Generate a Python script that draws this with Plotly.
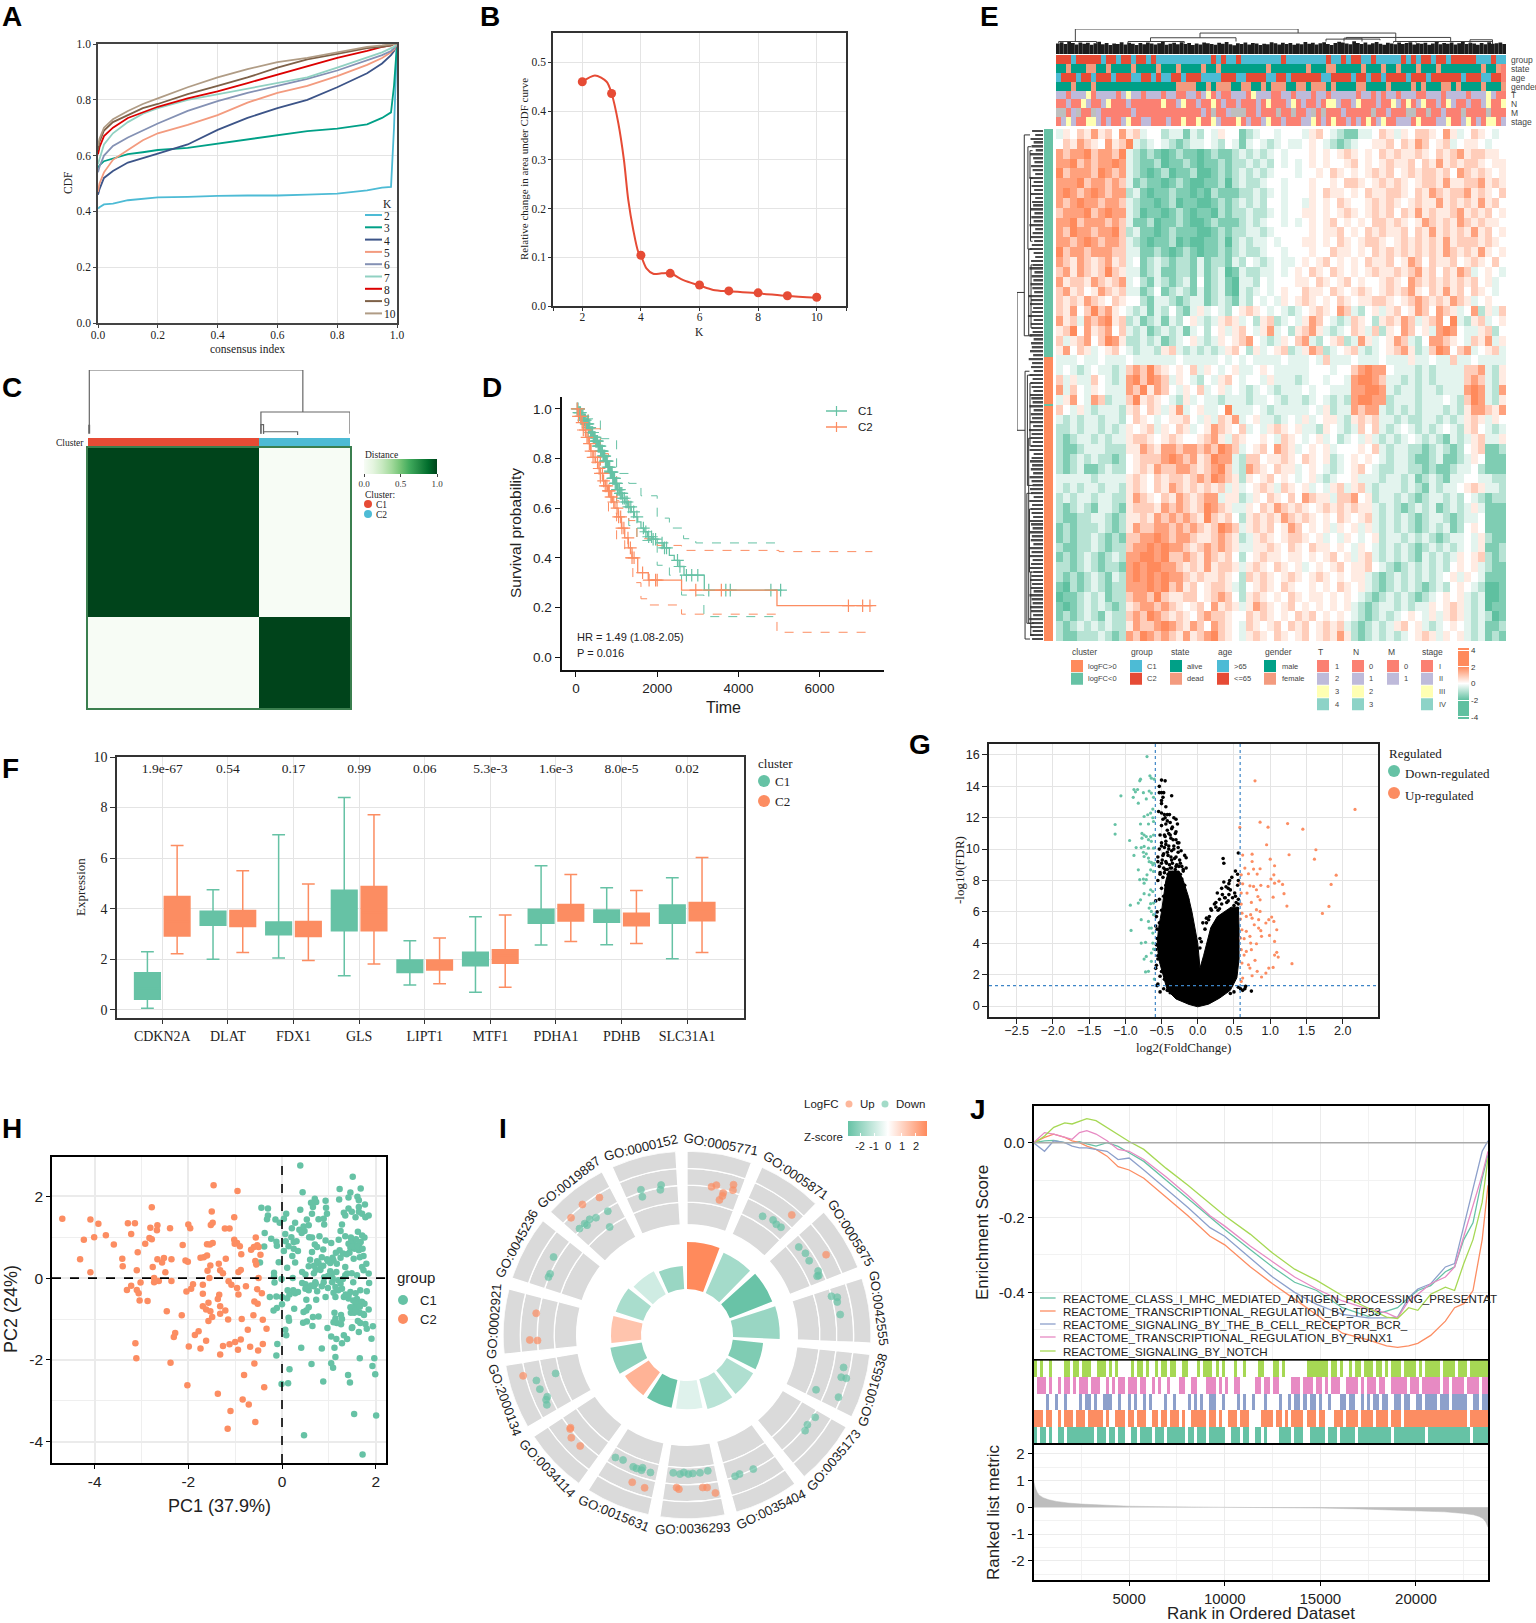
import numpy as np
import plotly.graph_objects as go

W, H = 1536, 1623
SERIF = "Liberation Serif"
SANS = "Liberation Sans"
GREEN = "#66C2A5"
ORANGE = "#FC8D62"

# ---- A: consensus CDF
cdf_index = [0, .005, .02, .05, .1, .15, .2, .3, .4, .5, .6, .7, .8, .9, .95, .98, .99, 1.0]
cdf_k2 = [.41, .415, .425, .428, .44, .445, .45, .452, .456, .457, .457, .46, .464, .475, .485, .488, .7, 1]
cdf_k3 = [.555, .565, .58, .59, .605, .612, .62, .628, .643, .656, .672, .688, .697, .712, .735, .755, .85, 1]
cdf_k4 = [.46, .48, .52, .545, .575, .592, .607, .64, .692, .735, .77, .8, .845, .895, .93, .96, .975, 1]
cdf_k5 = [.47, .5, .54, .585, .62, .655, .68, .71, .745, .79, .825, .85, .885, .925, .95, .97, .98, 1]
cdf_k6 = [.54, .56, .6, .635, .665, .69, .715, .76, .795, .825, .85, .875, .905, .94, .96, .975, .985, 1]
cdf_k7 = [.57, .59, .64, .68, .72, .75, .77, .8, .82, .84, .86, .88, .915, .95, .97, .985, .99, 1]
cdf_k8 = [.605, .63, .67, .7, .735, .755, .775, .805, .83, .86, .89, .92, .95, .975, .99, .995, 1, 1]
cdf_k9 = [.62, .65, .69, .72, .745, .77, .785, .82, .85, .88, .915, .945, .965, .985, .99, .995, 1, 1]
cdf_k10 = [.635, .66, .7, .73, .76, .785, .805, .845, .88, .91, .935, .95, .97, .99, .995, 1, 1, 1]
cdf_colors = ["#4DBBD5", "#00A087", "#3C5488", "#F39B7F", "#8491B4", "#91D1C2", "#DC0000", "#7E6148", "#B09C85"]

k_values = [2, 3, 4, 5, 6, 7, 8, 9, 10]
delta_area = [.46, .436, .104, .067, .043, .031, .027, .021, .018]
delta_line_k = [2, 2.43, 2.83, 3, 3.23, 3.42, 3.57, 3.74, 3.91, 4, 4.19, 4.42, 4.71, 5, 5.45, 6, 6.47, 7, 8, 9, 10]
delta_line_v = [.46, .473, .46, .436, .375, .30, .217, .156, .111, .103, .077, .066, .067, .067, .053, .042, .033, .03,
                .026, .0205, .017]

# ---- C: consensus matrix
c_x_edges = [0, .651, 1]
c_y_edges = [0, .65, 1]
c_matrix = [[1, 0], [0, 1]]
c_links = [(.005, .15, .82, .354, 1.0), (.66, .02, 1.0, .02, .354), (.003, .02, .006, .02, .15),
           (.66, .02, .67, .02, .16), (.67, .02, .8, .0, .05)]

# ---- D: survival
km_c1_t = [0, 60, 120, 180, 240, 300, 360, 420, 480, 540, 600, 660, 720, 780, 840, 900, 960, 1020, 1080, 1140, 1200,
           1280, 1360, 1440, 1520, 1600, 1680, 1760, 1900, 2000, 2150, 2300, 2420, 2540, 2660, 3160, 5070]
km_c1_s = [1, .985, .97, .955, .94, .925, .905, .885, .87, .85, .83, .81, .79, .765, .745, .72, .70, .675, .66, .64,
           .625, .605, .585, .565, .545, .52, .505, .485, .475, .46, .44, .41, .39, .365, .33, .27, .27]
km_c2_t = [0, 60, 120, 180, 240, 300, 360, 420, 480, 540, 600, 660, 720, 780, 840, 900, 960, 1040, 1120, 1200, 1290,
           1380, 1520, 1780, 2600, 4950, 7300]
km_c2_s = [1, .97, .945, .915, .885, .86, .83, .805, .785, .76, .74, .71, .69, .67, .645, .625, .60, .565, .52, .48,
           .44, .40, .34, .31, .27, .207, .207]
c1_up_t = [0, 300, 600, 1000, 1300, 1600, 2000, 2300, 2650, 2950, 5070]
c1_up_s = [1, .96, .88, .74, .70, .65, .56, .52, .477, .46, .46]
c1_lo_t = [0, 300, 600, 1000, 1300, 1500, 2000, 2300, 2600, 3150, 5070]
c1_lo_s = [1, .89, .75, .62, .53, .47, .37, .33, .25, .163, .163]
c2_up_t = [0, 300, 600, 800, 1000, 1300, 1500, 2000, 2600, 5000, 7300]
c2_up_s = [1, .92, .82, .74, .63, .55, .477, .45, .43, .425, .425]
c2_lo_t = [0, 300, 600, 800, 1000, 1200, 1400, 1600, 1800, 2600, 4950, 7300]
c2_lo_s = [1, .83, .67, .58, .47, .40, .30, .235, .21, .173, .10, .10]
censor_c1 = [30, 50, 70, 90, 110, 130, 150, 170, 190, 210, 230, 250, 265, 280, 295, 310, 325, 340, 360, 380, 395, 410,
             425, 440, 455, 470, 485, 500, 515, 530, 545, 560, 575, 590, 605, 620, 635, 650, 665, 680, 695, 710, 725,
             740, 755, 770, 785, 800, 815, 830, 845, 860, 875, 890, 905, 920, 935, 950, 965, 980, 1000, 1020, 1040,
             1070, 1090, 1110, 1130, 1150, 1190, 1230, 1260, 1300, 1350, 1420, 1500, 1660, 1720, 1790, 1860, 1900, 1960,
             2120, 2180, 2230, 2500, 2560, 2720, 2850, 3000, 3270, 3690, 3800, 4800, 5040]
censor_c2 = [30, 60, 110, 150, 180, 230, 270, 330, 370, 420, 470, 530, 570, 600, 650, 680, 720, 760, 800, 820, 860, 880,
             930, 1010, 1050, 1100, 1130, 1180, 1280, 1340, 1380, 1430, 1640, 1800, 1960, 2000, 2950, 3580, 6710, 7060,
             7240]

# ---- E: expression matrix, one letter per cell, see heat_levels
heat_levels = dict(a=-2.4, b=-1.6, c=-.9, d=-.35, e=0, f=.35, g=.85, h=1.6, i=2.6)
heat_rows = [
    "dfegfhfgehfgdeecddbdcedfeebcdeedeeedfgedcbbddegfdfeggfehfdegfede",
    "egfhgfehfgidcdedcbcddedcedbdedcdeddefedcbcdeeffgegfhgefgdeffede",
    "hghhighhgidcbcbabcbbabcbbcdcdcdedeeefefefgfefegfgffgfegfghfggffe",
    "hhighghhihdcbbcabbcbabbcbccdcdcededefefeefgefefgffgegfhfgfggfeff",
    "ighhhgihghdcbabcabbcaabcbcdcdcdeeedeefegfefefgfgefgfggfgehgfgfef",
    "hhhighhghgdbcbbabcbaabbcacdccdeedeeefeefeggfefgfgfefggfhffgghfgf",
    "hihghihghhcdbabbcbbabacbbbccdcdedeeefegffefegffggfegfhgfgghfgfeg",
    "hghihhghhgdcbbabcabbaabcbcdcdceedeedfefegfeefgfgfefgffhfgfgfhfge",
    "ghhhighihhdcabbabcbabbacbccdccdedeeffefefgfefgfgegfhfgffghfgfgef",
    "hhighhhghgdbbcabbcbaabcbbbcdcdeededefefgefefeggfgfefhgfgfhgfgffe",
    "hgihhghhigcdbbabcbbbaabcbccddcdeeeeefeffgefegfgffgegfhfgfgfhfgef",
    "hhghihghhgdcbabbcabaabbcacdcddedeeeffefegfefggfefgfgfgfhfgggfgfe",
    "ighhghhhggddbbcbabcbabbcbcdccdeedeeefeegffefegfgfgfgfgfhgfgfhfef",
    "hgfhgfghfgdebcdcbccbdbccbdcedcdeddefefgefefegffgefhgegffgefgfege",
    "ghfhgfgigfddbcdbbccbdbcdabdccddedefegfegfefefgffgfghfgegfhgdefed",
    "hfggfhgfghdecbdcbcdbebcdbaddcedeeeffegfefgefeefgfehgfgfgfgfgefde",
    "ghfgefhgfgddbcebcdcbdbcdbadcdedefeegffegfefgfefgfghfegfhfgegfede",
    "gfgfhgfegfeecbddcbcddbcdcbdcededfefgfefegfeffggfefghgfgfhgfdefee",
    "gfhegighfedcdbdcecbdfdedcefgfededcdefgfehgdcefdfgefhgehgfdehcfdg",
    "hfgdhghifgcdbcdbdcefdcdfgfdecfgcdedfhgedcdgfecfgfhgdfgheidcfgdef",
    "fgiehfghegdcdbcdcdbdecefdfgedfhdecfghfdcdegfdgcfehgefdhiheddfgce",
    "gdfghegihfccdcdbcdefdcdfefghedcdfeghdcefgcdhfdefhgdcehhgfedgfhdf",
    "fhegfdefgedcddcfgdcdcdcdfgecfdefgcdfhgcdefgdcdefghfcdgiheghdefgd",
    "dddeddedddeddddddedddddedededdddedddedgdddedddedddfddeddgddeddddd",
    "dedcdeddcdghgigfefegdfedefddefedddddeeedeeghihhedddcdcddddgghdcf",
    "gdfddgedcdhigihgdfedcedfgedeedfdddcdeedeedhiihgddcdcdcddddghgdcf",
    "hdgedfedddhgifhgedfegdefdedcdedcdddedeedddhhiihdcddcddcdddhihdch",
    "dfhedhgcddgifgfedcfdeddcdddcddedcddcdedcdchiihhcdddcdddedcgihdcf",
    "gedfdcdddcfgegfdfhdefddeidddedcdddddedfcddhghhdcdcdcdddcdcfhhgfh",
    "dcdcddcddcegfedeffgedfdgfhdefddcdedfdeffdcfgfgddcdccddcdcdfgfdfe",
    "ccdcddcdcdfefgdfegfdefhgfegdedfgfefddcfedcdgegdcdedcdcdedcfgedcd",
    "cbcddcdcddfggfefgfeefghfdgfeefedgfedefdecdedfdcdcdedcdcbdcdfgddf",
    "cbbcdddcccffhgfhhghhghgihgdefgehgfdefefdeeefegdcddccbcdcbcefgbbc",
    "cbcdcdccbcefggghihghfgihhdcggeffgfegfefcdefefedcddcbbcdbbcdfebbb",
    "cbcdbbcdccefgfhgghhgfghigdchgfegffdefedcdefgedccddccbcbbcddecbbb",
    "dddddcddddfgfegfggfghgihgfcfefgefedefdcdeefdddcddcdbcdcbddeeddcc",
    "dcdcddcddcfgfegfhgfgfgfgdfdefgfdgfefdedfgdfgdcdddcdcbdcddefgfddc",
    "cdcddcddccfhgfegfhgfghhdffcdfegfegehgffdgghefcddcdcbcddcdcedcbcc",
    "cbcdcbddcbfgggfhghgfgihgfddfegfhgfgfefgfgfgffdcdcbcdcdbcdcdfdbbb",
    "cbbccddcbcffgfhghghgfigfgecfgfgfhgfgfefegfefgdcdcdcbcddcbcddebbb",
    "bcbcccdcbcfhgghhghghgfgihgdfgfgefhgefefdfefdfdcdcdcbcdcdbcefebbb",
    "bcbccdcbcbgghhihghhgffghgfcdfgfefggfefdedfedefcddcdcdcbcddedfcbb",
    "cbbccdcbccghhihihhgfghghgfddffgfegfegffefedfedcdcdcbcdcdcdedfbbc",
    "bcbcdcbcdchhiihigghgfhgfgecefgffeffefefgefdfgdcdcdcbdcdcdfefgcbc",
    "ccbcdcbccbhihiihhgfgfhfggfdfgfegfefdefefgeffgedcbcdcdcdcefefdcbb",
    "cbcbcdcbdchihihihhgfgffgfecgfgfefgfefgfefeffdcbcdcdcdcdefdfedbbb",
    "bacbcdcbcchhhihighfgefggfdcefgfegfeefefegfefdcbcdcdcbcdcefedcaab",
    "abbcdcdbccghhgigffggefghgecfgfefegfeffefefedcbcdcdcbcdefefdcdaab",
    "babcdcdcbcfghhghgfefgehfgfdfhgfefgefefefefdcbcddcdcddfefgfdcdabb",
    "bcbcdcbdccghgihgfgfeghggfeegfgfefegfgefefedcbcdcdefedfdfgfdcdcab",
    "cbcdcdcdccfhgghihgfhgehgfedgfefgegfgefgfgdcbcdcdfgefdcdefedcdbbc",
    "cbbcccdcbchgihghgfhfghigfedfgfegfefgefgfhfcbcdcdcdefgfdfefdcdbcb",
]
col_flag_row = [0, .445, .537, .541, 1]
col_flag_z = [[0], [1], [0], [1]]

# ---- E: sample annotation tracks, letters refer to track_palette
track_names = ["group", "state", "age", "gender", "T", "N", "M", "stage"]
track_palette = dict(B="#4DBBD5", R="#E64B35", G="#00A087", S="#F39B7F", L="#BEBADA", Y="#FFFFB3", P="#FB8072",
                     M="#8DD3C7", N="#BEBEBE")
track_group = "RRRBRRRRRBRRBRRBRRBRBBBBBBBBBBBRBRBBRBBBBBBBBRBBBBBBBBRBBRBRRBBRBBBBBRBRBRRBRRBRRRRRBBBRBB"
track_state = "GGSGGGSSGGSGGGGSGGGGSGGGSGGGGSGGSGGGGGGGGGSGGGGGGGSGGGSSGGGGGSGGGSGGSGGGSGGGSGGGGGGGGSGGS"
track_age = "BRRRBRRBRRRBRRRBBRRBRBBRRBRRRBBBBRRRBBRRRRBBRRBRRRRRRBBRRRRBRRBRRBRRRRBRRRBRRRRRRBRRRBBRR"
track_gender = "GGGSGGGSGGGGGGGGGGGGGGGGSSSSGGSGSSSGGSSGGSGSSSGGSSGSSSGSGGGGSSGGGGSGGGGSGSGGGSSGSGGGGSGGGS"
track_t = "LLPLLLYPLLLLPLYLLPLLLPLLPPLLPLYPLPPLLLPYLLLPPLLPLLLPLLPLLLLLPLLPLPLLPLLLPPLLLPLLLLPLLLYLP"
track_n = "PPLPPYLPPLYPPPLPPPPPPYPPLYPPLPPYPLPPLPPPLPYPPPLYPLPPLPYYLPPLYPPPLPPYLPYPLYPPLPYLPPLPPLYPPY"
track_m = "NNPLNPPNLPPPPPPLPPPPPPPPPPPPPLPNPPLNNNPPLPPPNPPNPPLNPNPPPLPPPPPNPPLPPPNNPPNPPLPPPNPPPPNPPP"
track_stage = "PLYLPPYYLPLPPLYPPLLPPPLPPYPPYPPYLPPPYPLPPLYPPLPPPLLYPLPYPPLPLPYPLYPPLLLPYPPPLLYPPLYPLPYYPLP"

top_leaf_h = [.42, .47, .40, .50, .44, .38, .46, .41, .45, .37, .43, .49, .39, .44, .36, .42, .40, .47, .38, .45, .41,
              .36, .44, .39, .46, .42, .38, .43, .48, .37, .41, .45, .39, .47, .40, .44, .36, .42, .38, .46, .43, .40,
              .37, .45, .41, .48, .39, .35, .43, .40, .46, .38, .44, .42, .36, .41, .39, .47, .43, .38, .45, .40, .44,
              .37, .42, .39, .48, .41, .45, .38, .43, .47, .40, .36, .44, .49, .46, .42, .39, .51, .44, .40, .46, .38,
              .43, .48, .41, .37, .45, .42, .39, .46, .40, .44, .47, .38, .43, .41, .45, .37, .42, .50, .39, .44, .41,
              .46, .38, .43, .48, .40, .45, .42, .37, .44, .39, .47, .41, .43, .46, .40]
top_links = [(.043, .5, .538, .838, 1.0), (.32, .65, .755, .5, .838), (.21, .5, .40, .5, .65), (.645, .6, .877, .5, .662),
             (.60, .5, .72, .55, .595), (.64, .5, .68, .5, .635), (.75, .45, .85, .45, .5), (.80, .45, .97, .4, .5),
             (.92, .4, .97, .4, .57), (.006, .42, .09, .42, .5), (.16, .42, .285, .42, .5)]
left_leaf_w = [.42, .30, .48, .36, .44, .28, .50, .38, .33, .46, .40, .30, .52, .36, .44, .34, .48, .30, .42, .38, .50,
               .33, .45, .36, .52, .30, .40, .47, .34, .43, .50, .36, .30, .46, .40, .52, .33, .44, .37, .48, .41, .34,
               .56, .46, .50, .38, .42, .58, .36, .47, .44, .40, .52, .36, .46, .43, .50, .38, .55, .42, .46, .36, .52,
               .40, .48, .44, .37, .50, .45, .40, .52, .36, .47, .42, .50, .38, .54, .44, .48, .40, .46, .52, .36, .44,
               .50, .42, .47, .38, .52, .44, .40, .50, .46, .36, .53, .42, .48, .44, .38, .52, .46, .40, .50, .43, .47,
               .37, .54, .44, .50, .40, .46, .52, .38, .45, .50, .42, .47, .36, .52, .44, .40, .50, .46, .38, .53, .44,
               .48, .40, .50, .42]
left_links = [(41, .72, 76, .69, 1.0), (1, .5, 52, .55, .72), (61, .52, 129, .5, .69), (4, .45, 30, .45, .58),
              (30, .42, 52, .42, .55), (62, .4, 90, .38, .6), (92, .4, 125, .35, .62), (78, .45, 125, .45, .55),
              (5, .4, 12, .4, .5), (12, .4, 28, .4, .48), (34, .4, 50, .4, .46), (64, .4, 80, .4, .5),
              (96, .4, 112, .4, .52), (112, .4, 128, .35, .47)]

# ---- F: boxes
genes = ["CDKN2A", "DLAT", "FDX1", "GLS", "LIPT1", "MTF1", "PDHA1", "PDHB", "SLC31A1"]
gene_p = ["1.9e-67", "0.54", "0.17", "0.99", "0.06", "5.3e-3", "1.6e-3", "8.0e-5", "0.02"]
box_c1_low = [.07, 2.0, 2.05, 1.35, .98, .7, 2.57, 2.58, 2.02]
box_c1_q1 = [.42, 3.35, 2.97, 3.13, 1.48, 1.75, 3.43, 3.47, 3.43]
box_c1_med = [.85, 3.6, 3.2, 3.9, 1.75, 2.05, 3.7, 3.7, 3.8]
box_c1_q3 = [1.47, 3.9, 3.48, 4.73, 1.97, 2.28, 3.98, 3.95, 4.15]
box_c1_high = [2.3, 4.75, 6.93, 8.4, 2.73, 3.68, 5.7, 4.83, 5.23]
box_c2_low = [2.22, 2.27, 1.95, 1.82, 1.03, .9, 2.7, 2.63, 2.27]
box_c2_q1 = [2.92, 3.3, 2.9, 3.13, 1.58, 1.84, 3.52, 3.33, 3.53]
box_c2_med = [3.5, 3.6, 3.15, 3.85, 1.78, 2.15, 3.8, 3.6, 3.95]
box_c2_q3 = [4.48, 3.93, 3.5, 4.88, 1.97, 2.38, 4.17, 3.82, 4.25]
box_c2_high = [6.5, 5.5, 4.98, 7.72, 2.84, 3.75, 5.35, 4.72, 6.03]

# ---- G: volcano, the solid cloud is an outline, the loose points around it are listed
volcano_mass_x = [0, -.12, -.3, -.42, -.48, -.54, -.56, -.54, -.5, -.47, -.44, -.4, -.33, -.26, -.2, -.13, -.08, -.04,
                  0, .02, .03, .08, .12, .18, .27, .36, .46, .56, .57, .57, .54, .45, .3, .15, 0]
volcano_mass_y = [-.05, .1, .45, 1, 2, 3, 4, 5, 6, 7, 8, 8.6, 8.6, 8.6, 8, 7, 6, 5, 4, 3, 2.4, 3.2, 4, 5, 5.7, 6, 6.3,
                  6.3, 5, 3, 1.8, 1, .5, .12, -.05]
black_x = [-.5, -.45, -.53, -.53, -.5, -.47, -.36, -.48, -.5, -.5, -.44, -.54, -.5, -.46, -.42, -.39, -.45, -.3, -.33,
           -.28, -.38, -.44, -.5, -.36, -.42, -.31, -.4, -.46, -.37, -.44, -.5, -.3, -.26, -.33, -.4, -.46, -.53, -.27,
           -.36, -.42, -.48, -.55, -.18, -.16, -.3, -.36, -.44, -.5, -.24, -.3, -.38, -.45, -.52, -.2, -.27, -.34, -.4,
           -.48, -.55, -.22, -.3, -.37, -.44, -.5, -.18, -.24, -.4, -.47, -.53, -.14, -.13, -.44, -.5, -.56, -.47, -.53,
           -.56, -.46, -.52, -.57, -.5, -.55, -.48, -.57, -.5, -.46, -.55, -.47, -.52, -.42, -.38,
           .56, .35, .36, .52, .55, .47, .44, .43, .56, .39, .27, .34, .43, .37, .3, .52, .56, .56, .4, .25, .19, .3,
           .16, .5, .55, .12, .15, .1, .05, .03, .56, .59, .62, .65, .74, .66, .5, .45,
           -.48, -.42, -.35, -.3, -.52, -.45, -.38, -.34, -.28, -.5, -.44, -.4, -.33, -.27, -.23, -.47, -.41, -.37, -.32,
           -.25, -.55, -.49, -.43, -.39, -.35, -.29, -.22, -.53, -.47, -.42, -.36, -.31, -.26, -.2, -.16, -.52, -.46,
           -.41, -.35, -.3, -.24, -.58, -.57, -.58, -.56, -.58, -.55, -.58, -.52, -.56, -.07, -.05, -.1, -.02, .03, .07,
           .12, .18, .23, .28, .33, .38, .42, .48, .53, .33, .25, .45, .51, .36, .42, .55]
black_y = [14.4, 14.35, 14, 13.6, 13.6, 13.6, 13.4, 13.3, 13.1, 12.9, 12.7, 12.4, 12.3, 12.2, 12.2, 12.2, 12, 11.9, 12,
           11.6, 11.7, 11.6, 11.5, 11.3, 11.2, 11, 11, 10.9, 10.7, 10.5, 10.4, 10.6, 10.4, 10.2, 10.2, 10.1, 10, 9.8,
           9.9, 9.8, 9.6, 9.5, 9.6, 9.45, 9.5, 9.3, 9.2, 9.1, 9.1, 8.9, 8.8, 8.7, 8.5, 8.7, 8.5, 8.4, 8.3, 8.2, 8, 8.1,
           8, 7.8, 7.7, 7.5, 7.7, 7.4, 7.1, 7, 6.8, 6.8, 6.5, 6.4, 6.1, 6, 5.5, 5.3, 4.9, 4.6, 4.2, 3.9, 3.5, 3.2, 2.8,
           2.6, 2.2, 1.7, 1.4, 1.1, .9, 1, .85,
           9.75, 9.4, 9.1, 8.6, 8.4, 8.2, 8, 7.8, 8, 7.6, 7.2, 7.1, 7.1, 6.9, 6.8, 7, 6.8, 6.5, 6.6, 6.3, 6.1, 6.2, 5.7,
           6.4, 6.2, 5.3, 5.5, 4.9, 4.1, 3.7, 1.2, 1.1, 1, 1.1, .95, 1.25, .9, .8,
           11.9, 11.8, 11.4, 11.1, 10.9, 10.8, 10.9, 10.6, 10.4, 10.2, 10.3, 10, 10, 10.1, 9.9, 9.7, 9.6, 9.5, 9.4, 9.3,
           9.2, 9.3, 9.1, 9, 9.1, 9, 8.9, 8.9, 8.8, 8.7, 8.8, 8.7, 8.9, 8.6, 8.8, 8.4, 8.5, 8.4, 8.5, 8.3, 8.4, 6.7, 5.7,
           5.1, 4.3, 3.6, 3, 2.4, 1.9, 1.3, 4.5, 3.8, 3, 3.4, 4.3, 5.3, 5.6, 6.2, 6.5, 6.1, 6.5, 6.9, 6.7, 6.9, 6.6, 7.5,
           6.6, 7.4, 7.2, 7.9, 7.5, 7.7]
down_x = [-.7, -.66, -.79, -.8, -.64, -.6, -.88, -.83, -.86, -.75, -.67, -.64, -1.06, -.89, -.71, -.82, -.61, -.62, -.65,
          -.69, -.74, -.62, -.61, -.79, -.68, -1.14, -1.14, -.77, -.74, -.71, -.65, -.61, -.94, -.77, -.68, -.64, -.85,
          -.78, -.74, -.68, -.61, -.75, -.71, -.88, -.74, -.68, -.67, -.64, -.6, -.62, -.82, -.65, -.61, -.7, -.75,
          -.71, -.8, -.74, -.65, -.62, -.74, -.67, -.79, -.93, -.82, -.65, -.61, -.67, -.64, -.61, -.78, -.68, -.67,
          -.64, -.92, -.62, -.78, -.72, -.62, -.61, -.64, -.71, -.74, -.64, -.72, -.68, -.6]
down_y = [15.9, 14.67, 14.46, 14.35, 14.52, 14.46, 13.8, 13.8, 13.65, 13.6, 13.7, 13.57, 13.4, 13.3, 13.2, 12.93, 13.3,
          12.55, 12.3, 12.19, 12.08, 12, 11.76, 11.6, 11.6, 11.57, 10.96, 11, 10.9, 10.8, 10.8, 10.9, 10.55, 10.7, 10.6,
          10.5, 10.1, 10.1, 10.17, 10.06, 10.06, 9.8, 9.7, 9.6, 9.53, 9.43, 9.2, 9.15, 9.1, 9, 8.68, 8.68, 8.58, 8.36,
          8.09, 8.05, 8.05, 7.83, 7.41, 7.3, 7.16, 7.09, 6.77, 6.43, 6.56, 6.52, 6.56, 6.24, 6.03, 5.82, 5.5, 5.39, 4.97,
          4.97, 4.82, 4.65, 4.01, 4.06, 4.01, 3.63, 3.38, 3.16, 2.99, 2.85, 2.17, 2.21, 1.72]
up_x = [.79, 2.17, .86, 1.24, .97, 1.45, .58, .95, 1.63, .62, .75, 1.26, 1.61, 1.0, .75, 1.06, .65, .77, .86, .6, .7,
        .82, 1.05, 1.91, 1.01, 1.12, 1.06, 1.17, 1.84, .58, .62, .72, .77, .87, .97, .81, .6, .68, 1.19, .83, 1.04, .86,
        .74, .6, 1.23, 1.81, .81, .86, .61, .73, 1.72, .67, .75, 1.02, .59, .98, 1.05, .84, .94, .78, .61, .84, .67,
        .87, 1.09, .59, .64, .72, .88, .99, 1.06, .73, .81, .6, .67, .74, 1.09, 1.06, 1.11, .64, .79, .7, .61, 1.3, .82,
        .72, 1.04, .98, .94, .88, .75, .62, .6]
up_y = [14.35, 12.53, 11.72, 11.63, 11.4, 11.27, 11.38, 10.28, 9.96, 9.62, 9.68, 9.64, 9.36, 9.36, 9.21, 8.94, 8.79,
        8.73, 8.75, 8.36, 8.43, 8.41, 8.36, 8.34, 8.09, 7.96, 7.83, 7.75, 7.75, 7.83, 7.79, 7.66, 7.62, 7.69, 7.62, 7.41,
        7.2, 7.2, 7.16, 6.98, 6.94, 6.77, 6.6, 6.5, 6.37, 6.35, 6.14, 6.03, 5.92, 5.82, 5.9, 5.71, 5.6, 5.67, 5.54, 5.5,
        5.39, 5.5, 5.29, 5.18, 4.86, 4.97, 4.76, 4.8, 4.86, 4.33, 4.29, 4.44, 4.44, 4.5, 4.12, 4.01, 3.97, 3.59, 3.48,
        3.59, 3.42, 3.25, 3.12, 3.25, 2.91, 2.63, 2.74, 2.7, 2.21, 2.42, 2.46, 2.42, 2.1, 1.85, 1.93, 1.78, 1.57]

# ---- H: PCA
pca_c2_x = [-4.69, -4.09, -3.92, -4.23, -4.01, -3.76, -3.59, -4.31, -4.09, -3.29, -3.14, -3.22, -3.41, -3.4, -3.08, -3.1,
            -2.78, -2.81, -2.66, -2.67, -2.83, -2.78, -2.92, -2.39, -2.66, -2.52, -2.56, -2.36, -2.76, -2.49, -2.73,
            -2.63, -2.73, -2.36, -3.02, -3.22, -3.31, -3.1, -3.06, -3.04, -2.87, -2.46, -2.14, -2.28, -2.31, -3.13,
            -3.11, -2.38, -1.99, -1.86, -1.78, -1.74, -1.62, -2.02, -1.37, -1.1, -1.16, -.84, -.71, -.57, -.38, -.81,
            -.59, -1.46, -.95, -1.5, -1.02, -1.48, -1.52, -1.22, -1.12, -2.0, -1.96, -2.12, -1.6, -1.48, -1.54, -1.02,
            -.96, -.9, -1.01, -.56, -.53, -.6, -.66, -.5, -.87, -.46, -.57, -.55, -1.2, -1.74, -1.67, -1.6, -2.06, -2.01,
            -1.53, -1.35, -1.59, -1.32, -1.26, -.88, -.93, -.5, -1.55, -1.14, -1.08, -.96, -.77, -.53, -.43, -.93, -1.9,
            -1.94, -2.04, -1.69, -1.69, -1.34, -1.37, -1.57, -1.69, -1.62, -1.53, -1.32, -1.21, -1.32, -1.49, -1.57,
            -1.15, -.86, -.61, -.59, -.52, -.41, -.33, -.73, -1.0, -.88, -1.12, -1.26, -.94, -.68, -.51, -.41, -1.32]
pca_c2_y = [1.45, 1.43, 1.33, .94, 1.0, 1.05, .82, .46, .14, 1.34, 1.34, 1.08, .47, .29, .63, .19, 1.73, 1.23, 1.29,
            1.17, .98, .95, .84, 1.22, .46, .49, .38, .46, .27, .14, 0, -.07, -.1, -.07, -.11, -.19, -.29, -.29, -.37,
            -.55, -.56, -.81, -.91, -1.34, -1.44, -1.59, -1.96, -2.07, -1.67, -1.39, -1.3, -1.72, -1.53, -2.62, -2.83,
            -3.25, -3.68, -2.97, -3.09, -3.52, -2.67, -2.37, -2.09, 2.27, 2.13, 1.63, 1.49, 1.35, 1.3, 1.21, 1.21, 1.31,
            1.22, .81, .83, .86, .82, .94, .86, .78, .84, .99, .8, .76, .69, .76, .58, .57, .42, .33, .47, .5, .51, .55,
            .43, .4, .31, .35, .18, .19, .12, .2, .15, 0, 0, -.08, -.16, -.24, -.2, -.27, -.37, -.4, -.15, -.26, -.33,
            -.16, -.38, -.41, -.51, -.6, -.69, -.77, -.81, -.69, -.79, -.87, -.95, -1.05, -1.01, -1.0, -.91, -.57, -.63,
            -1.02, -1.24, -1.26, -1.56, -1.5, -1.62, -1.66, -1.75, -1.68, -1.77, -1.61, -1.87]
pca_c1_x = [.39, 1.51, .44, 1.23, 1.68, 1.46, 1.22, 1.42, 1.61, 1.64, 1.77, .7, .73, .93, .62, .66, .94, .96, .39, -.44,
            -.3, .64, .53, .78, .89, .9, .09, .04, -.14, -.05, -.3, -.32, 1.32, 1.42, 1.35, 1.49, 1.57, 1.64, 1.71, 1.78,
            1.85, 1.64, 1.25, 1.28, .28, .21, .07, .37, .46, .57, .48, -.37, -.23, -.12, -.11, -.38, .04, .14, .25, .31,
            .25, .34, .22, .28, -.07, -.47, .11, -.17, -.17, -.01, .23, -.16, .43, .5, .57, .6, .64, .7, .64, .8, .93,
            1.05, 1.21, 1.35, 1.47, 1.62, 1.71, 1.76, 1.42, 1.53, 1.64, 1.46, 1.23, .88, .75, 1.55, 1.64, 1.74, 1.53,
            1.66, 1.25, 1.1, .96, .85, .75, .78, 1.17, 1.03, 1.35, 1.71, 1.8, 1.74, 1.85, 1.03, 1.16, 1.39, 1.49, 1.6,
            1.35, .43, .5, .71, .89, 1.07, 1.25, 1.52, 1.86, .68, .57, .75, 1.14, 1.28, 1.46, 1.57, 1.67, 1.81, .12, .28,
            .16, 0, -.12, -.26, .11, .93, 1.14, 1.32, 1.42, 1.6, .52, .73, 1.71, 1.57, 1.46, 1.64, 1.76, 1.85, 0, -.11,
            -.18, .26, .57, .52, .46, 1.12, 1.26, 1.47, 1.54, 1.66, .14, .15, .66, .78, 1.14, 1.17, 1.26, 1.1, .45, .53,
            .65, .97, 1.49, 1.67, 1.78, 1.94, 1.81, 1.64, .07, .09, 1.05, 1.16, 1.32, 1.39, 1.28, 1.91, -.1, .41, .85,
            1.12, -.12, 1.66, 1.97, 1.14, 1.05, 1.09, .16, .63, 1.93, 1.99, 1.41, 1.45, .88, -.01, .13, 1.54, 2.01, .47,
            1.72,
            1.48, 1.58, 1.68, 1.52, 1.62, 1.72, 1.44, 1.38, 1.3, 1.15, 1.08, .98, .88, .82, .72, .68, .98, 1.08, 1.2, .9,
            1.52, 1.6, 1.7, 1.5, 1.58, 1.66, 1.74, 1.42, 1.36, 1.2, 1.1, .98, .85, .72, .62, .5, .34, .24, 1.28, 1.5, 1.62,
            1.75, .68, .82, 1.06, 1.3, .58, .42, .2, .08]
pca_c1_y = [2.75, 2.48, 2.1, 2.18, 2.19, 2.09, 1.92, 1.97, 1.99, 1.9, 1.8, 1.94, 1.86, 1.89, 1.84, 1.74, 1.72, 1.57, 1.67,
            1.72, 1.7, 1.57, 1.43, 1.44, 1.45, 1.31, 1.57, 1.45, 1.43, 1.35, 1.53, 1.44, 1.6, 1.7, 1.53, 1.62, 1.49, 1.74,
            1.57, 1.49, 1.53, 1.62, 1.15, 1.31, 1.35, 1.22, 1.08, 1.18, 1.26, 1.29, 1.15, 1.1, .96, .89, .79, .77, .66,
            .78, .88, .9, .72, .66, .54, .38, .39, .38, .25, .13, .04, -.02, 0, -.11, .15, .09, .29, .45, .64, .82, .99,
            1.02, .92, .86, .94, 1.02, .99, 1.13, 1.04, .99, .84, .84, .82, .74, .68, .7, .76, .72, .68, .54, .47, .51, .5,
            .43, .46, .51, .41, .37, .35, .37, .27, .27, .35, .19, .11, .17, .15, .11, .12, .07, .07, -.12, -.15, -.1,
            -.1, -.1, -.14, -.1, -.12, -.2, -.3, -.32, -.22, -.26, -.34, -.37, -.3, -.32, -.3, -.37, -.4, -.46, -.45, -.46,
            -.49, -.46, -.46, -.46, -.42, -.51, -.53, -.53, -.59, -.63, -.71, -.67, -.63, -.77, -.64, -.73, -.79, -.75,
            -.71, -.79, -.83, -.85, -.9, -.85, -.85, -.85, -.97, -1.04, -.95, -.94, -.99, -1.1, -1.13, -1.08, -1.09,
            -1.06, -1.17, -1.22, -1.22, -1.1, -1.12, -1.18, -1.24, -1.32, -1.26, -1.4, -1.43, -1.49, -1.4, -1.49, -1.59,
            -1.48, -1.61, -1.7, -1.72, -1.7, -1.89, -1.96, -1.96, -1.93, -2.08, -2.19, -2.23, -2.1, -2.15, -2.35, -2.37,
            -2.55, -2.53, -2.59, -2.57, -3.32, -3.36, -3.84, -4.31,
            .92, .95, .88, .78, .78, .72, .62, .58, .6, .62, .5, .42, .3, .28, .2, .12, .05, 0, -.05, .02,
            -.55, -.62, -.58, -.72, -.78, -.7, -.88, -.5, -.4, -.3, -.36, -.24, -.2, -.14, -.18, -.26, -.34, -.3, -1.0,
            -1.2, -1.05, -.9, .3, .2, .1, -.02, 1.0, 1.1, 1.0, .9]

# ---- I: GO circle
go_terms = ["GO:0005771", "GO:0005871", "GO:0005875", "GO:0042555", "GO:0016538", "GO:0035173", "GO:0035404",
            "GO:0036293", "GO:0015631", "GO:0034114", "GO:2000134", "GO:0002921", "GO:0045236", "GO:0019887",
            "GO:0000152"]
go_zscore = [2.8, -1.7, -2.8, -1.9, -2.4, -1.5, -1.3, -.6, -2.8, 1.8, -2.1, 1.4, -1.6, -.9, -1.9]
go_outer = [.505, .489, .498, .504, .416, .415, .418, .404, .404, .404, .422, .413, .407, .391, .376]
ring_edges = [.60, .722, .814, .906, 1.0]
go_up_theta = [9.4, 11.1, 17.2, 17.6, 14.3, 14.3, 13.5, 41.1, 60, 183.9, 183, 174.1, 172.5, 169.8, 200.4, 195.5, 231.5,
               228.4, 223.9, 231.2, 256, 278.2, 268.2, 267.9, 315.3, 321.3, 327.5]
go_up_r = [.816, .83, .855, .826, .797, .78, .755, .866, .873, .831, .839, .833, .836, .872, .854, .862, .809, .841,
           .837, .815, .918, .828, .855, .813, .896, .909, .886]
go_down_theta = [342.4, 342.1, 350.2, 349.6, 32.5, 36.8, 38.9, 41.1, 51.8, 55.4, 58.7, 64, 65.7, 65.7, 75, 75.9, 77.6,
                 82.4, 101.7, 105.3, 105.2, 113, 112.3, 122.7, 126.7, 129, 153.7, 159.3, 161.2, 185.7, 182.9, 181.3,
                 179.4, 177.6, 174.6, 171.3, 210.3, 207.1, 202.2, 200.7, 198.5, 198.6, 194.9, 253.7, 253.2, 249.8, 246.2,
                 245.3, 243.5, 300.3, 294.1, 292.7, 314.7, 317.4, 317.7, 319.9, 322.2, 327.4, 324.4]
go_down_r = [.828, .789, .827, .802, .765, .781, .773, .777, .773, .782, .777, .793, .786, .776, .813, .842, .836, .84,
             .869, .869, .897, .762, .89, .828, .816, .826, .813, .808, .811, .753, .757, .747, .756, .753, .752, .747,
             .771, .763, .774, .775, .761, .775, .773, .744, .855, .852, .83, .843, .851, .84, .815, .816, .822, .822,
             .807, .822, .807, .799, .722]

# ---- J: GSEA
gsea_sets = ["REACTOME_CLASS_I_MHC_MEDIATED_ANTIGEN_PROCESSING_PRESENTAT", "REACTOME_TRANSCRIPTIONAL_REGULATION_BY_TP53",
             "REACTOME_SIGNALING_BY_THE_B_CELL_RECEPTOR_BCR_", "REACTOME_TRANSCRIPTIONAL_REGULATION_BY_RUNX1",
             "REACTOME_SIGNALING_BY_NOTCH"]
gsea_colors = ["#66C2A5", "#FC8D62", "#8DA0CB", "#E78AC3", "#A6D854"]
es_rank = [0, 577, 1058, 1635, 2019, 2404, 2788, 3269, 3846, 4423, 5000, 5769, 6923, 8077, 9231, 10000, 11346, 12500,
           13654, 14808, 16154, 17500, 18462, 19038, 19615, 20096, 20769, 21538, 22019, 22500, 22981, 23462, 23766]
es_class1 = [0, .005, .006, 0, 0, .003, -.003, -.009, 0, -.01, -.027, -.05, -.1, -.15, -.2, -.232, -.286, -.332, -.373,
             -.395, -.441, -.464, -.45, -.441, -.414, -.395, -.382, -.345, -.332, -.259, -.214, -.095, -.032]
es_tp53 = [0, .014, .023, .014, .005, 0, -.009, -.018, -.036, -.064, -.073, -.095, -.145, -.195, -.25, -.273, -.332,
           -.377, -.418, -.459, -.509, -.527, -.543, -.547, -.543, -.536, -.515, -.477, -.441, -.43, -.395, -.259, -.114]
es_bcr = [0, -.023, .005, 0, -.009, -.014, -.014, -.018, -.023, -.045, -.041, -.073, -.123, -.173, -.227, -.25, -.309,
          -.359, -.4, -.432, -.459, -.468, -.468, -.466, -.414, -.391, -.377, -.332, -.323, -.223, -.123, -.023, .005]
es_runx1 = [0, .027, .023, .014, .009, .027, .032, .023, .005, -.018, -.023, -.045, -.091, -.141, -.195, -.223, -.277,
            -.318, -.359, -.391, -.423, -.445, -.455, -.468, -.423, -.405, -.377, -.359, -.332, -.25, -.168, -.086, -.023]
es_notch = [-.003, .018, .041, .053, .05, .056, .064, .059, .041, .023, .003, -.018, -.068, -.114, -.164, -.195, -.245,
            -.295, -.338, -.368, -.409, -.441, -.466, -.47, -.441, -.448, -.405, -.386, -.395, -.323, -.259, -.159, -.041]
rug_notch = "101001000011011011100111010100001011010010110110011000101110101000100100001100011010000000111111101101001011011101101011101111010111110111101110111111"
rug_runx1 = "011101001011010111011100101011011101100101001000110011000111010100110000011011011000011101110110101110011110101110110011111011101111110110111101111011"
rug_bcr = "000010010010000101101001110010010100101000010010000101010011001000010100100010000100101101011010010001101100101011011001101100110111101110111110011011"
rug_tp53 = "111011001011101110111110100111011011100110110111010011111011010011101110000111101101011110111011000111011110111101111011101111111111111111111110111111"
rug_class1 = "101101001101111111110111011011001101111011101111110110111011111001110110011010000111101110011111011101111101111111111101111111111011111111111111011111"
metric_rank = [0, 50, 100, 200, 300, 500, 800, 1200, 1800, 2500, 3500, 5000, 7000, 9000, 11000, 13000, 15000, 17000,
               19000, 20500, 21500, 22500, 23000, 23300, 23500, 23650, 23766]
metric_value = [1.0, .85, .72, .55, .45, .36, .28, .22, .16, .12, .08, .04, .02, .01, 0, -.01, -.03, -.06, -.1, -.14,
                -.17, -.23, -.28, -.34, -.42, -.55, -.75]

layout = {}
notes = []
keys = []
fig = go.Figure()


def axes(n, box, xr, yr, xopt=None, yopt=None):
    s = "" if n == 1 else str(n)
    x0, y0, x1, y1 = box
    base = dict(showgrid=False, zeroline=False, showticklabels=False, ticks="", showline=False)
    layout["xaxis" + s] = {**base, "domain": [x0 / W, x1 / W], "range": xr, "anchor": "y" + s, **(xopt or {})}
    layout["yaxis" + s] = {**base, "domain": [1 - y1 / H, 1 - y0 / H], "range": yr, "anchor": "x" + s, **(yopt or {})}
    return dict(xaxis="x" + s, yaxis="y" + s)


def scale_opt(family, size, line="#444", lw=1.5, grid="#e4e4e4", ticklen=4, mirror=True, **kw):
    return dict(showticklabels=True, ticks="outside", ticklen=ticklen, tickcolor=line, tickwidth=1,
                tickfont=dict(family=family, size=size, color="#222"), showline=True, linecolor=line, linewidth=lw,
                mirror=mirror, showgrid=grid is not None, gridcolor=grid or "#fff", gridwidth=1, **kw)


def note(px, py, text, size=11, family=SERIF, color="#222", xa="center", angle=0, bold=False):
    if bold:
        text = "<b>" + text + "</b>"
    notes.append(dict(x=px / W, y=1 - py / H, xref="paper", yref="paper", text=text, showarrow=False, xanchor=xa,
                      yanchor="middle", textangle=angle, font=dict(size=size, family=family, color=color), borderpad=0))


def key_line(x0, x1, py, color, width=2):
    keys.append(dict(type="line", xref="paper", yref="paper", x0=x0 / W, x1=x1 / W, y0=1 - py / H, y1=1 - py / H,
                     line=dict(color=color, width=width)))


def key_tick(px, y0, y1, color, width=1.2):
    keys.append(dict(type="line", xref="paper", yref="paper", x0=px / W, x1=px / W, y0=1 - y0 / H, y1=1 - y1 / H,
                     line=dict(color=color, width=width)))


def key_rect(x0, y0, x1, y1, color):
    keys.append(dict(type="rect", xref="paper", yref="paper", x0=x0 / W, x1=x1 / W, y0=1 - y0 / H, y1=1 - y1 / H,
                     fillcolor=color, line=dict(width=0)))


def key_dot(px, py, r, color):
    keys.append(dict(type="circle", xref="paper", yref="paper", x0=(px - r) / W, x1=(px + r) / W, y0=1 - (py + r) / H,
                     y1=1 - (py - r) / H, fillcolor=color, line=dict(width=0)))


def step_scale(colors):
    n = len(colors)
    out = []
    for i, c in enumerate(colors):
        out += [[i / n, c], [(i + 1) / n, c]]
    return out


def link_path(links, horizontal=False):
    a, b = [], []
    for p0, h0, p1, h1, h in links:
        a += [p0, p0, p1, p1, None]
        b += [h0, h, h, h1, None]
    return (b, a) if horizontal else (a, b)


for letter, px, py in [("A", 12, 17), ("B", 490, 17), ("C", 12, 387), ("D", 492, 387), ("E", 989, 17), ("F", 10, 768),
                       ("G", 920, 744), ("H", 12, 1128), ("I", 503, 1128), ("J", 978, 1109)]:
    note(px, py, letter, size=28, family=SANS, color="#000", bold=True)

# A
a = axes(1, (98, 44, 397, 323), [0, 1], [0, 1],
         scale_opt(SERIF, 11.5, ticklen=3, dtick=.2, tickformat=".1f", ticklabelstandoff=-3),
         scale_opt(SERIF, 11.5, ticklen=3, dtick=.2, tickformat=".1f"))
cdf_all = [cdf_k2, cdf_k3, cdf_k4, cdf_k5, cdf_k6, cdf_k7, cdf_k8, cdf_k9, cdf_k10]
for i, (vals, col) in enumerate(zip(cdf_all, cdf_colors)):
    fig.add_trace(go.Scatter(x=cdf_index, y=vals, mode="lines", line=dict(color=col, width=1.8), **a))
    key_line(365, 382, 215 + i * 12.3, col)
    note(383, 216 + i * 12.3, str(k_values[i]), size=11.5, xa="left")
note(387, 204, "K", size=11.5)
note(247, 349, "consensus index", size=11.5)
note(68, 183, "CDF", size=11.5, angle=-90)

# B
b = axes(2, (553, 33, 846, 306), [1, 11], [0, .56],
         scale_opt(SERIF, 11.5, line="#333", ticklen=3, ticklabelstandoff=-4, tickvals=[1, 2, 4, 6, 8, 10, 11],
                   ticktext=["", "2", "4", "6", "8", "10", ""]),
         scale_opt(SERIF, 11.5, line="#333", ticklen=3, dtick=.1, tickformat=".1f"))
fig.add_trace(go.Scatter(x=delta_line_k, y=delta_line_v, mode="lines", line=dict(color="#E64B35", width=2, shape="spline", smoothing=.8), **b))
fig.add_trace(go.Scatter(x=k_values, y=delta_area, mode="markers", marker=dict(color="#E64B35", size=9), **b))
note(699, 332, "K", size=11.5)
note(524, 169, "Relative change in area under CDF curve", size=11, angle=-90)

# C
greens = [[0, "#F7FCF5"], [.12, "#E5F5E0"], [.25, "#C7E9C0"], [.38, "#A1D99B"], [.5, "#74C476"], [.62, "#41AB5D"],
          [.75, "#238B45"], [.88, "#006D2C"], [1, "#00441B"]]
c = axes(3, (88, 448, 350, 708), [0, 1], [1, 0], dict(showline=True, mirror=True, linecolor="#3b7f4f", linewidth=1.5),
         dict(showline=True, mirror=True, linecolor="#3b7f4f", linewidth=1.5))
fig.add_trace(go.Heatmap(x=c_x_edges, y=c_y_edges, z=c_matrix, colorscale=greens, zmin=0, zmax=1,
                         colorbar=dict(orientation="h", x=364 / W, xanchor="left", y=1 - 459 / H, yanchor="top",
                                       lenmode="pixels", len=73, thicknessmode="pixels", thickness=15, xpad=0, ypad=0,
                                       outlinewidth=0, tickvals=[0, .5, 1], ticktext=["0.0", "0.5", "1.0"], ticks="outside",
                                       ticklen=3, tickangle=0, tickfont=dict(family=SERIF, size=9, color="#333")), **c))
c2 = axes(4, (88, 438, 350, 446), [0, 1], [0, 1])
fig.add_trace(go.Heatmap(x=c_x_edges, y=[0, 1], z=[[0, 1]], colorscale=step_scale(["#E64B35", "#4DBBD5"]), zmin=0, zmax=1,
                         showscale=False, **c2))
c3 = axes(5, (88, 370, 350, 435), [0, 1], [0, 1])
lx, ly = link_path(c_links)
fig.add_trace(go.Scatter(x=lx, y=ly, mode="lines", line=dict(color="#666", width=1.2), **c3))
note(85, 443, "Cluster", size=9.5, xa="right")
note(364, 455, "Distance", size=9.5, xa="left")
note(364, 495, "Cluster:", size=9.5, xa="left")
key_dot(368, 504, 4, "#E64B35")
key_dot(368, 514, 4, "#4DBBD5")
note(375, 505, "C1", size=9.5, xa="left")
note(375, 515, "C2", size=9.5, xa="left")

# D
d = axes(6, (561.5, 397, 884, 670), [-357, 7586], [-.052, 1.048],
         scale_opt(SANS, 13.5, line="#111", lw=2, grid=None, ticklen=5, mirror=False, dtick=2000, tickformat="d"),
         scale_opt(SANS, 13.5, line="#111", lw=2, grid=None, ticklen=5, mirror=False, dtick=.2, tickformat=".1f"))
for t, s, col in [(c1_up_t, c1_up_s, GREEN), (c1_lo_t, c1_lo_s, GREEN), (c2_up_t, c2_up_s, ORANGE), (c2_lo_t, c2_lo_s, ORANGE)]:
    fig.add_trace(go.Scatter(x=t, y=s, mode="lines", line=dict(color=col, width=1, dash="dash", shape="hv"), **d))
for t, s, cens, col in [(km_c1_t, km_c1_s, censor_c1, GREEN), (km_c2_t, km_c2_s, censor_c2, ORANGE)]:
    fig.add_trace(go.Scatter(x=t, y=s, mode="lines", line=dict(color=col, width=1.3, shape="hv"), **d))
    at = np.array(s)[np.searchsorted(t, cens, side="right") - 1]
    fig.add_trace(go.Scatter(x=cens, y=at, mode="markers", marker=dict(symbol="cross-thin", size=9, line=dict(color=col, width=1.2)), **d))
for py, col, lab in [(411, GREEN, "C1"), (427, ORANGE, "C2")]:
    key_line(826, 847, py, col, 1.5)
    key_tick(836.5, py - 5, py + 5, col)
    note(857, py, lab, size=11.5, family=SANS, xa="left")
note(576, 637, "HR = 1.49 (1.08-2.05)", size=11, family=SANS, xa="left")
note(576, 653, "P = 0.016", size=11, family=SANS, xa="left")
note(723, 707, "Time", size=16, family=SANS)
note(515, 533, "Survival probability", size=15.5, family=SANS, angle=-90)

# E
heat_scale = [[0, "#5FC0A0"], [.264, "#5FC0A0"], [.5, "#FFFFFF"], [.736, "#FF8A5C"], [1, "#FF8A5C"]]
heat_z = [[heat_levels[ch] for ch in row.ljust(64, "e")[:64]] for row in heat_rows]
e = axes(7, (1056, 129, 1506, 641), [-.5, 63.5], [len(heat_z) - .5, -.5])
fig.add_trace(go.Heatmap(z=heat_z, colorscale=heat_scale, zmin=-4.24, zmax=4.24,
                         colorbar=dict(x=1458 / W, xanchor="left", y=1 - 648 / H, yanchor="top", lenmode="pixels", len=71,
                                       thicknessmode="pixels", thickness=11, xpad=0, ypad=0, outlinewidth=0,
                                       tickvals=[-4, -2, 0, 2, 4], ticktext=["-4", "-2", "0", "2", "4"], ticks="inside",
                                       ticklen=11, tickcolor="#fff", tickfont=dict(family=SANS, size=8, color="#333")), **e))
track_list = [track_group, track_state, track_age, track_gender, track_t, track_n, track_m, track_stage]
codes = list(track_palette)
track_z = [[codes.index(ch) for ch in tr.ljust(90, "P")[:90]] for tr in track_list]
e2 = axes(8, (1056, 55, 1506, 126), [-.5, 89.5], [7.5, -.5])
fig.add_trace(go.Heatmap(z=track_z, colorscale=step_scale(list(track_palette.values())), zmin=0, zmax=len(codes), showscale=False, **e2))
for i, name in enumerate(track_names):
    note(1510, 60 + i * 8.85, name, size=8.5, family=SANS, color="#444", xa="left")
e3 = axes(9, (1044, 129, 1053, 641), [0, 1], [1, 0])
fig.add_trace(go.Heatmap(x=[0, 1], y=col_flag_row, z=col_flag_z, colorscale=step_scale([GREEN, "#FF8A5C"]), zmin=0, zmax=1, showscale=False, **e3))
e4 = axes(10, (1056, 29, 1506, 54), [-.5, len(top_leaf_h) - .5], [0, 1])
fig.add_trace(go.Bar(x=list(range(len(top_leaf_h))), y=top_leaf_h, width=1, marker=dict(color="#1c1c1c", line=dict(width=0)), **e4))
e5 = axes(20, (1056, 29, 1506, 54), [0, 1], [0, 1])
lx, ly = link_path(top_links)
fig.add_trace(go.Scatter(x=lx, y=ly, mode="lines", line=dict(color="#444", width=1), **e5))
e6 = axes(11, (1017, 129, 1043, 641), [1, 0], [len(left_leaf_w) - .5, -.5])
fig.add_trace(go.Bar(y=list(range(len(left_leaf_w))), x=left_leaf_w, orientation="h", width=.42,
                     marker=dict(color="#4a4a4a", line=dict(width=0)), **e6))
lx, ly = link_path(left_links, horizontal=True)
fig.add_trace(go.Scatter(x=lx, y=ly, mode="lines", line=dict(color="#333", width=1), **e6))

legend_groups = [("cluster", 1071, 1087, [("logFC>0", "#FF8A5C"), ("logFC<0", GREEN)]),
                 ("group", 1130, 1146, [("C1", "#4DBBD5"), ("C2", "#E64B35")]),
                 ("state", 1170, 1186, [("alive", "#00A087"), ("dead", "#F39B7F")]),
                 ("age", 1217, 1233, [(">65", "#4DBBD5"), ("<=65", "#E64B35")]),
                 ("gender", 1264, 1281, [("male", "#00A087"), ("female", "#F39B7F")]),
                 ("T", 1317, 1334, [("1", "#FB8072"), ("2", "#BEBADA"), ("3", "#FFFFB3"), ("4", "#8DD3C7")]),
                 ("N", 1352, 1368, [("0", "#FB8072"), ("1", "#BEBADA"), ("2", "#FFFFB3"), ("3", "#8DD3C7")]),
                 ("M", 1387, 1403, [("0", "#FB8072"), ("1", "#BEBADA")]),
                 ("stage", 1421, 1438, [("I", "#FB8072"), ("II", "#BEBADA"), ("III", "#FFFFB3"), ("IV", "#8DD3C7")])]
for title, sx, tx, items in legend_groups:
    note(sx, 652, title, size=8.5, family=SANS, color="#444", xa="left")
    for i, (lab, col) in enumerate(items):
        key_rect(sx, 660 + i * 12.75, sx + 12, 672 + i * 12.75, col)
        note(tx, 666 + i * 12.75, lab, size=7.5, family=SANS, color="#444", xa="left")

# F
f = axes(12, (117, 757, 743.6, 1018), [-.69, 8.86], [-.32, 10],
         scale_opt(SERIF, 14, line="#333", type="category", categoryorder="array", categoryarray=genes),
         scale_opt(SERIF, 14, line="#333", dtick=2, ticklen=5))
for name, col, lo, q1, md, q3, hi in [("C1", GREEN, box_c1_low, box_c1_q1, box_c1_med, box_c1_q3, box_c1_high),
                                      ("C2", ORANGE, box_c2_low, box_c2_q1, box_c2_med, box_c2_q3, box_c2_high)]:
    fig.add_trace(go.Box(x=genes, q1=q1, median=md, q3=q3, lowerfence=lo, upperfence=hi, name=name, fillcolor=col,
                         line=dict(color=col, width=1.5), whiskerwidth=.5, boxpoints=False, **f))
fig.add_trace(go.Scatter(x=genes, y=[9.49] * len(genes), text=gene_p, mode="text",
                         textfont=dict(family=SERIF, size=13.5, color="#222"), **f))
note(80, 887, "Expression", size=13, angle=-90)
note(757, 763, "cluster", size=13, xa="left")
key_dot(764, 781, 6, GREEN)
key_dot(764, 801, 6, ORANGE)
note(774, 782, "C1", size=13, xa="left")
note(774, 802, "C2", size=13, xa="left")

# G
g = axes(13, (989, 744, 1377.5, 1017), [-2.88, 2.48], [-.7, 16.7],
         scale_opt(SANS, 12.5, line="#222", dtick=.5, tickformat=".1f", ticklen=5, ticklabelstandoff=-4),
         scale_opt(SANS, 12.5, line="#222", dtick=2, ticklen=5))
fig.add_trace(go.Scatter(x=volcano_mass_x, y=volcano_mass_y, mode="lines", fill="toself", fillcolor="#000",
                         line=dict(color="#000", width=1), **g))
fig.add_trace(go.Scatter(x=black_x, y=black_y, mode="markers", marker=dict(color="#000", size=3.6), **g))
fig.add_trace(go.Scatter(x=down_x, y=down_y, mode="markers", marker=dict(color=GREEN, size=3.2), **g))
fig.add_trace(go.Scatter(x=up_x, y=up_y, mode="markers", marker=dict(color=ORANGE, size=3.2), **g))
for xv in (-.585, .585):
    keys.append(dict(type="line", xref="x13", yref="y13", x0=xv, x1=xv, y0=-.7, y1=16.7, line=dict(color="#3d85c6", width=1.2, dash="dot")))
keys.append(dict(type="line", xref="x13", yref="y13", x0=-2.88, x1=2.48, y0=1.3, y1=1.3, line=dict(color="#3d85c6", width=1.2, dash="dot")))
note(1183, 1047, "log2(FoldChange)", size=13)
note(959, 870, "-log10(FDR)", size=13, angle=-90)
note(1388, 753, "Regulated", size=13, xa="left")
key_dot(1394, 771, 6, GREEN)
key_dot(1394, 793, 6, ORANGE)
note(1404, 773, "Down-regulated", size=13, xa="left")
note(1404, 795, "Up-regulated", size=13, xa="left")

# H
minor = dict(dtick=1, showgrid=True, gridcolor="#efefef", gridwidth=1, ticks="")
h_ticks = dict(tickvals=[-4, -2, 0, 2], ticktext=["-4", "-2", "0", "2"], gridwidth=2.2, minor=minor)
h = axes(14, (52, 1157, 386, 1463), [-4.91, 2.22], [-4.52, 2.96],
         {**scale_opt(SANS, 15.5, line="#000", lw=1.6, grid="#ebebeb", ticklen=4), **h_ticks},
         {**scale_opt(SANS, 15.5, line="#000", lw=1.6, grid="#ebebeb", ticklen=4), **h_ticks})
fig.add_trace(go.Scatter(x=pca_c1_x, y=pca_c1_y, mode="markers", marker=dict(color=GREEN, size=6.5), **h))
fig.add_trace(go.Scatter(x=pca_c2_x, y=pca_c2_y, mode="markers", marker=dict(color=ORANGE, size=6.5), **h))
keys.append(dict(type="line", xref="x14", yref="y14", x0=0, x1=0, y0=-4.52, y1=2.96, line=dict(color="#000", width=1.6, dash="dash")))
keys.append(dict(type="line", xref="x14", yref="y14", x0=-4.91, x1=2.22, y0=0, y1=0, line=dict(color="#000", width=1.6, dash="dash")))
note(219, 1506, "PC1 (37.9%)", size=18, family=SANS)
note(11, 1309, "PC2 (24%)", size=18, family=SANS, angle=-90)
note(396, 1277, "group", size=15, family=SANS, xa="left")
key_dot(403, 1300, 5, GREEN)
key_dot(403, 1319, 5, ORANGE)
note(419, 1300, "C1", size=13, family=SANS, xa="left")
note(419, 1319, "C2", size=13, family=SANS, xa="left")

# I
cx, cy, rad = 687, 1335, 184
layout["polar"] = dict(domain=dict(x=[(cx - rad) / W, (cx + rad) / W], y=[1 - (cy + rad) / H, 1 - (cy - rad) / H]),
                       bgcolor="rgba(0,0,0,0)", barmode="overlay",
                       radialaxis=dict(range=[0, 1], visible=False),
                       angularaxis=dict(direction="clockwise", rotation=90, visible=False))
go_theta = [24 * i + 10.25 for i in range(len(go_terms))]
for low, high in zip(ring_edges[:-1], ring_edges[1:]):
    fig.add_trace(go.Barpolar(theta=go_theta, r=[high - low] * len(go_terms), base=low, width=20.5,
                              marker=dict(color="#DADADA", line=dict(color="#fff", width=1.3))))
z_low, z_high = -2.86, 2.79
fig.add_trace(go.Barpolar(theta=go_theta, r=np.array(go_outer) - .25, base=.25, width=20.5,
                          marker=dict(color=go_zscore, cmin=z_low, cmax=z_high, line=dict(width=0),
                                      colorscale=[[0, GREEN], [.506, "#FFFFFF"], [1, "#FF8A5C"]],
                                      colorbar=dict(orientation="h", x=848 / W, xanchor="left", y=1 - 1121 / H, yanchor="top",
                                                    lenmode="pixels", len=79, thicknessmode="pixels", thickness=15, xpad=0, ypad=0,
                                                    outlinewidth=0, tickvals=[-2, -1, 0, 1, 2], ticktext=["-2", "-1", "0", "1", "2"],
                                                    ticks="inside", ticklen=3, tickcolor="#fff", tickangle=0,
                                                    tickfont=dict(family=SANS, size=11, color="#222")))))
fig.add_trace(go.Scatterpolar(theta=go_down_theta, r=go_down_r, mode="markers",
                              marker=dict(color=GREEN, size=7, opacity=.7, line=dict(color=GREEN, width=.8))))
fig.add_trace(go.Scatterpolar(theta=go_up_theta, r=go_up_r, mode="markers",
                              marker=dict(color=ORANGE, size=7, opacity=.7, line=dict(color=ORANGE, width=.8))))
for term, th in zip(go_terms, go_theta):
    px = cx + 1.05 * rad * np.sin(np.radians(th))
    py = cy - 1.05 * rad * np.cos(np.radians(th))
    if th <= 90:
        ang = th
    elif th < 270:
        ang = th - 180
    else:
        ang = th - 360
    note(px, py, term, size=13.2, family=SANS, color="#222", angle=ang)
note(821, 1104, "LogFC", size=11.5, family=SANS)
key_dot(849, 1104, 3.5, "#FDB79B")
note(867, 1104, "Up", size=11.5, family=SANS)
key_dot(885, 1104, 3.5, "#A3DBC8")
note(910, 1104, "Down", size=11.5, family=SANS)
note(823, 1137, "Z-score", size=11.5, family=SANS)

# J
j1 = axes(15, (1033.5, 1106, 1488, 1359), [0, 23766], [-.578, .098],
          {**scale_opt(SANS, 15, line="#000", lw=1.6, grid="#ececec"), "tickvals": [5000, 10000, 15000, 20000], "showticklabels": False, "ticks": "",
           "minor": dict(tickvals=[2500, 7500, 12500, 17500, 22500], showgrid=True, gridcolor="#f2f2f2", gridwidth=1, ticks="")},
          {**scale_opt(SANS, 15, line="#000", lw=1.6, grid="#ececec"), "tickvals": [-.4, -.2, 0], "ticktext": ["-0.4", "-0.2", "0.0"],
           "minor": dict(tickvals=[-.5, -.3, -.1], showgrid=True, gridcolor="#f2f2f2", gridwidth=1, ticks="")})
keys.append(dict(type="line", xref="x15", yref="y15", x0=0, x1=23766, y0=0, y1=0, line=dict(color="#aaa", width=1.6)))
for vals, col, name, i in zip([es_class1, es_tp53, es_bcr, es_runx1, es_notch], gsea_colors, gsea_sets, range(5)):
    fig.add_trace(go.Scatter(x=es_rank, y=vals, mode="lines", line=dict(color=col, width=1.3), **j1))
    py = [1298, 1311, 1324, 1337, 1351][i]
    key_line(1040, 1055.6, py, col, 1.3)
    note(1061.5, py, name, size=11.6, family=SANS, color="#222", xa="left")
rug_list = [rug_notch, rug_runx1, rug_bcr, rug_tp53, rug_class1]
rug_z = [[(5 - i) * int(ch) for ch in row] for i, row in enumerate(rug_list)]
j2 = axes(16, (1033.5, 1359, 1488, 1445), [0, 23766], [4.6, -.6], None,
          dict(showline=True, mirror=True, linecolor="#000", linewidth=1.6))
n_rug = len(rug_notch)
fig.add_trace(go.Heatmap(z=rug_z, x=[23766 * (i + .5) / n_rug for i in range(n_rug)],
                         colorscale=step_scale(["#FFFFFF"] + gsea_colors), zmin=0, zmax=6, showscale=False, **j2))
j3 = axes(17, (1033.5, 1445, 1488, 1580), [0, 23766], [-2.72, 2.33],
          {**scale_opt(SANS, 15, line="#000", lw=1.6, grid="#ececec"), "tickvals": [5000, 10000, 15000, 20000], "tickformat": "d",
           "minor": dict(tickvals=[2500, 7500, 12500, 17500, 22500], showgrid=True, gridcolor="#f2f2f2", gridwidth=1, ticks="")},
          {**scale_opt(SANS, 15, line="#000", lw=1.6, grid="#ececec"), "tickvals": [-2, -1, 0, 1, 2], "ticktext": ["-2", "-1", "0", "1", "2"],
           "minor": dict(tickvals=[-2.5, -1.5, -.5, .5, 1.5], showgrid=True, gridcolor="#f2f2f2", gridwidth=1, ticks="")})
fig.add_trace(go.Scatter(x=metric_rank, y=metric_value, mode="lines", fill="tozeroy", fillcolor="#BDBDBD",
                         line=dict(color="#BDBDBD", width=.5), **j3))
note(982, 1233, "Enrichment Score", size=17, family=SANS, angle=-90)
note(993, 1512, "Ranked list metric", size=17, family=SANS, angle=-90)
note(1261, 1613, "Rank in Ordered Dataset", size=17, family=SANS)

fig.update_layout(width=W, height=H, margin=dict(l=0, r=0, t=0, b=0), showlegend=False, template="none",
                  paper_bgcolor="#fff", plot_bgcolor="rgba(0,0,0,0)", annotations=notes, shapes=keys,
                  boxmode="group", boxgap=.094, boxgroupgap=.138, hovermode=False, **layout)
fig.write_html("out.html", config=dict(displayModeBar=False), post_script="document.body.style.margin='0';")
